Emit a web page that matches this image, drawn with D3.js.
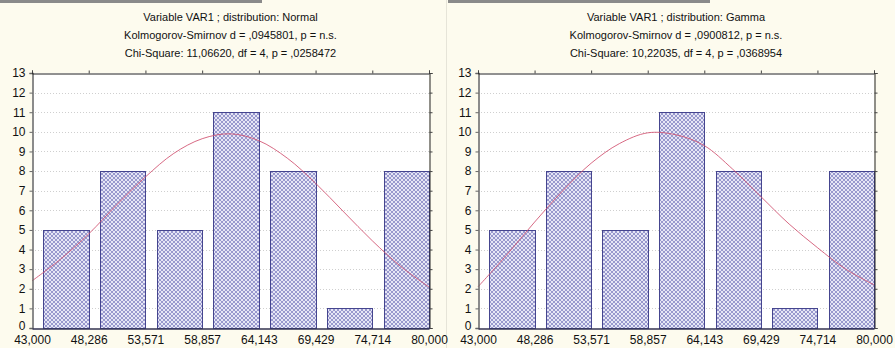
<!DOCTYPE html>
<html>
<head>
<meta charset="utf-8">
<script src="https://cdn.jsdelivr.net/npm/d3@7"></script>
<style>
  body { margin: 0; background: #fdfbee; }
  svg { display: block; font-family: Arial, "Liberation Sans", sans-serif; }
</style>
</head>
<body>
<div id="chart"></div>
<script>
// valores
const binEdges = [43.0, 48.286, 53.571, 58.857, 64.143, 69.429, 74.714, 80.0];
const binLabels = ["43,000", "48,286", "53,571", "58,857", "64,143", "69,429", "74,714", "80,000"];
const counts = [5, 8, 5, 11, 8, 1, 8];
const yTicks = [0, 1, 2, 3, 4, 5, 6, 7, 8, 9, 10, 11, 12, 13];

// curvas ajustadas
const curveX = [43.0, 45.64, 48.29, 50.93, 53.57, 56.21, 58.86, 61.5, 64.14, 66.79, 69.43, 72.07, 74.71, 77.36, 80.0];
const normalCurve = [2.4, 3.5, 4.8, 6.3, 7.7, 8.9, 9.65, 9.9, 9.55, 8.66, 7.38, 5.91, 4.45, 3.14, 2.09];
const gammaCurve = [2.1, 3.7, 5.4, 7.0, 8.4, 9.4, 9.95, 9.85, 9.3, 8.1, 6.7, 5.3, 4.1, 3.0, 2.2];

const titlesNormal = [
  "Variable VAR1 ; distribution: Normal",
  "Kolmogorov-Smirnov d = ,0945801, p = n.s.",
  "Chi-Square: 11,06620, df = 4, p = ,0258472",
];
const titlesGamma = [
  "Variable VAR1 ; distribution: Gamma",
  "Kolmogorov-Smirnov d = ,0900812, p = n.s.",
  "Chi-Square: 10,22035, df = 4, p = ,0368954",
];

const width = 895;
const height = 348;
const plotTop = 73;
const plotBottom = 328;

const svg = d3
  .select("#chart")
  .append("svg")
  .attr("width", width)
  .attr("height", height);

svg.append("rect").attr("width", width).attr("height", height).attr("fill", "#fdfbee");

// patron de rayado cruzado para las barras
const pat = svg
  .append("defs")
  .append("pattern")
  .attr("id", "hatch")
  .attr("patternUnits", "userSpaceOnUse")
  .attr("width", 4)
  .attr("height", 4);
pat.append("rect").attr("width", 4).attr("height", 4).attr("fill", "#e6e6f5");
pat.append("path")
  .attr("d", "M-1,1 l2,-2 M0,4 l4,-4 M3,5 l2,-2 M-1,3 l2,2 M0,0 l4,4 M3,-1 l2,2")
  .attr("stroke", "#9090c8")
  .attr("stroke-width", 0.9);

// franja gris arriba (captura de pantalla)
svg.append("rect").attr("x", 0).attr("y", 0).attr("width", 262).attr("height", 3).attr("fill", "#8a8a8a");
svg.append("rect").attr("x", 448).attr("y", 0).attr("width", 262).attr("height", 3).attr("fill", "#8a8a8a");
svg.append("line")
  .attr("x1", 446.5).attr("x2", 446.5).attr("y1", 0).attr("y2", height)
  .attr("stroke", "#e6e4d8");

function drawPanel(left, right, titles, curveValues) {
  const xScale = d3.scaleLinear().domain([binEdges[0], binEdges[binEdges.length - 1]]).range([left, right]);
  const yScale = d3.scaleLinear().domain([0, 13]).range([plotBottom, plotTop]);
  const binW = binEdges[1] - binEdges[0];

  const g = svg.append("g");

  // area del grafico
  g.append("rect")
    .attr("x", left).attr("y", plotTop)
    .attr("width", right - left).attr("height", plotBottom - plotTop)
    .attr("fill", "#ffffff");

  // lineas de rejilla punteadas
  g.selectAll(".grid")
    .data(yTicks.filter((d) => d > 0 && d < 13))
    .enter()
    .append("line")
    .attr("x1", left).attr("x2", right)
    .attr("y1", (d) => Math.round(yScale(d)) + 0.5)
    .attr("y2", (d) => Math.round(yScale(d)) + 0.5)
    .attr("stroke", "#cfcfcf")
    .attr("stroke-dasharray", "1,2");

  // barras
  g.selectAll(".bar")
    .data(counts)
    .enter()
    .append("rect")
    .attr("x", (d, i) => Math.round(xScale(binEdges[i] + binW * 0.2)) + 0.5)
    .attr("y", (d) => Math.round(yScale(d)) + 0.5)
    .attr("width", (d, i) => Math.round(xScale(binEdges[i + 1])) - Math.round(xScale(binEdges[i] + binW * 0.2)))
    .attr("height", (d) => Math.round(yScale(0)) - Math.round(yScale(d)))
    .attr("fill", "url(#hatch)")
    .attr("stroke", "#45458f")
    .attr("stroke-width", 1);

  // curva ajustada
  const line = d3
    .line()
    .x((d, i) => xScale(curveX[i]))
    .y((d) => yScale(d))
    .curve(d3.curveCatmullRom);
  g.append("path")
    .datum(curveValues)
    .attr("d", line)
    .attr("fill", "none")
    .attr("stroke", "#d0506e")
    .attr("stroke-width", 1)
    .attr("opacity", 0.85);

  // eje Y
  const yAxis = d3.axisLeft(yScale).tickValues(yTicks).tickSize(3).tickPadding(4).tickFormat(d3.format("d"));
  const yAxisG = g.append("g").attr("transform", "translate(" + (left + 0.5) + ",0)").call(yAxis);
  yAxisG.select(".domain").attr("stroke", "#666").attr("stroke-width", 1.5);
  yAxisG.selectAll(".tick line").attr("stroke", "#666");
  yAxisG.selectAll("text").attr("font-size", 12).attr("fill", "#111").attr("font-family", "Arial, 'Liberation Sans', sans-serif");
  yAxisG.selectAll(".tick text").filter((d) => d === 0).attr("dy", "0.15em");

  // eje X
  const xAxis = d3.axisBottom(xScale).tickValues(binEdges).tickSize(0).tickPadding(7).tickFormat((d, i) => binLabels[i]);
  const xAxisG = g.append("g").attr("transform", "translate(0," + (plotBottom + 0.5) + ")").call(xAxis);
  xAxisG.select(".domain").attr("stroke", "#333355").attr("stroke-width", 1.5);
  xAxisG.selectAll("text").attr("font-size", 12).attr("fill", "#111").attr("font-family", "Arial, 'Liberation Sans', sans-serif");

  // borde superior y derecho con marcas hacia fuera
  const topAxis = d3.axisTop(xScale).tickValues(binEdges).tickSize(3).tickFormat("");
  const topG = g.append("g").attr("transform", "translate(0," + (plotTop + 0.5) + ")").call(topAxis);
  topG.select(".domain").attr("stroke", "#222");
  topG.selectAll(".tick line").attr("stroke", "#444");

  const rightAxis = d3.axisRight(yScale).tickValues(yTicks).tickSize(3).tickFormat("");
  const rightG = g.append("g").attr("transform", "translate(" + (right + 0.5) + ",0)").call(rightAxis);
  rightG.select(".domain").attr("stroke", "#222");
  rightG.selectAll(".tick line").attr("stroke", "#444");

  // titulos
  g.selectAll(".title")
    .data(titles)
    .enter()
    .append("text")
    .attr("x", (left + right) / 2)
    .attr("y", (d, i) => 21 + i * 18)
    .attr("text-anchor", "middle")
    .attr("font-size", 11)
    .attr("fill", "#111")
    .text((d) => d);
}

drawPanel(32, 429, titlesNormal, normalCurve);
drawPanel(478, 874, titlesGamma, gammaCurve);
</script>
</body>
</html>
